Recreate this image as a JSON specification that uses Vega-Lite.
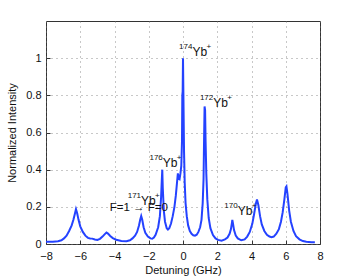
{
  "$schema": "https://vega.github.io/schema/vega-lite/v6.json",
  "autosize": {"type": "none"},
  "width": 274,
  "height": 223,
  "padding": {"left": 46, "top": 21, "right": 34, "bottom": 33},
  "background": "white",
  "config": {
    "font": "Liberation Sans, DejaVu Sans",
    "view": {"stroke": "#333", "strokeWidth": 1},
    "axis": {
      "domain": false,
      "grid": true,
      "gridDash": [1, 4],
      "gridColor": "#777",
      "gridOpacity": 0.8,
      "tickColor": "#333",
      "tickSize": -4,
      "labelFontSize": 11,
      "labelColor": "#111",
      "titleFontSize": 11,
      "titleFontWeight": "normal",
      "titleColor": "#111"
    }
  },
  "datasets": {
    "spectrum": [
      {"d": -8.0, "v": 0.012}, {"d": -7.6, "v": 0.012}, {"d": -7.3, "v": 0.015}, {"d": -7.1, "v": 0.02},
      {"d": -6.95, "v": 0.03}, {"d": -6.8, "v": 0.045}, {"d": -6.65, "v": 0.07}, {"d": -6.5, "v": 0.1},
      {"d": -6.4, "v": 0.13}, {"d": -6.32, "v": 0.16}, {"d": -6.25, "v": 0.187}, {"d": -6.18, "v": 0.165},
      {"d": -6.1, "v": 0.13}, {"d": -6.0, "v": 0.095}, {"d": -5.85, "v": 0.065}, {"d": -5.7, "v": 0.045},
      {"d": -5.55, "v": 0.033}, {"d": -5.42, "v": 0.03}, {"d": -5.3, "v": 0.029}, {"d": -5.15, "v": 0.024},
      {"d": -5.0, "v": 0.022}, {"d": -4.85, "v": 0.028}, {"d": -4.7, "v": 0.04}, {"d": -4.58, "v": 0.052},
      {"d": -4.47, "v": 0.062}, {"d": -4.38, "v": 0.056}, {"d": -4.25, "v": 0.043}, {"d": -4.1, "v": 0.032},
      {"d": -3.9, "v": 0.023}, {"d": -3.6, "v": 0.016}, {"d": -3.3, "v": 0.015}, {"d": -3.1, "v": 0.02},
      {"d": -2.95, "v": 0.03}, {"d": -2.8, "v": 0.045}, {"d": -2.68, "v": 0.065}, {"d": -2.57, "v": 0.1},
      {"d": -2.5, "v": 0.13}, {"d": -2.44, "v": 0.15}, {"d": -2.38, "v": 0.13}, {"d": -2.3, "v": 0.09},
      {"d": -2.2, "v": 0.06}, {"d": -2.05, "v": 0.04}, {"d": -1.9, "v": 0.03}, {"d": -1.8, "v": 0.028},
      {"d": -1.7, "v": 0.035}, {"d": -1.6, "v": 0.05}, {"d": -1.45, "v": 0.09}, {"d": -1.35, "v": 0.15},
      {"d": -1.28, "v": 0.25}, {"d": -1.24, "v": 0.34}, {"d": -1.21, "v": 0.4}, {"d": -1.18, "v": 0.3},
      {"d": -1.12, "v": 0.18}, {"d": -1.05, "v": 0.12}, {"d": -0.95, "v": 0.085}, {"d": -0.88, "v": 0.078},
      {"d": -0.8, "v": 0.085}, {"d": -0.7, "v": 0.11}, {"d": -0.6, "v": 0.15}, {"d": -0.5, "v": 0.2},
      {"d": -0.42, "v": 0.26}, {"d": -0.35, "v": 0.33}, {"d": -0.3, "v": 0.38}, {"d": -0.25, "v": 0.355},
      {"d": -0.2, "v": 0.35}, {"d": -0.15, "v": 0.38}, {"d": -0.1, "v": 0.42}, {"d": -0.06, "v": 0.55},
      {"d": -0.04, "v": 0.8}, {"d": -0.02, "v": 0.82}, {"d": 0.0, "v": 1.0}, {"d": 0.03, "v": 0.75},
      {"d": 0.06, "v": 0.5}, {"d": 0.1, "v": 0.33}, {"d": 0.15, "v": 0.22}, {"d": 0.22, "v": 0.15},
      {"d": 0.3, "v": 0.1}, {"d": 0.4, "v": 0.07}, {"d": 0.5, "v": 0.055}, {"d": 0.6, "v": 0.047},
      {"d": 0.7, "v": 0.045}, {"d": 0.8, "v": 0.05}, {"d": 0.9, "v": 0.065}, {"d": 1.0, "v": 0.09},
      {"d": 1.08, "v": 0.13}, {"d": 1.15, "v": 0.22}, {"d": 1.2, "v": 0.35}, {"d": 1.23, "v": 0.56},
      {"d": 1.26, "v": 0.74}, {"d": 1.29, "v": 0.72}, {"d": 1.32, "v": 0.55}, {"d": 1.36, "v": 0.38},
      {"d": 1.42, "v": 0.24}, {"d": 1.5, "v": 0.14}, {"d": 1.6, "v": 0.085}, {"d": 1.75, "v": 0.048},
      {"d": 1.9, "v": 0.03}, {"d": 2.05, "v": 0.022}, {"d": 2.25, "v": 0.018}, {"d": 2.45, "v": 0.025},
      {"d": 2.6, "v": 0.035}, {"d": 2.72, "v": 0.055}, {"d": 2.8, "v": 0.08}, {"d": 2.85, "v": 0.11},
      {"d": 2.88, "v": 0.13}, {"d": 2.92, "v": 0.11}, {"d": 2.98, "v": 0.075}, {"d": 3.08, "v": 0.045},
      {"d": 3.2, "v": 0.03}, {"d": 3.4, "v": 0.02}, {"d": 3.6, "v": 0.025}, {"d": 3.75, "v": 0.04},
      {"d": 3.9, "v": 0.065}, {"d": 4.05, "v": 0.11}, {"d": 4.15, "v": 0.16}, {"d": 4.25, "v": 0.215},
      {"d": 4.32, "v": 0.24}, {"d": 4.4, "v": 0.21}, {"d": 4.5, "v": 0.15}, {"d": 4.6, "v": 0.105},
      {"d": 4.75, "v": 0.07}, {"d": 4.9, "v": 0.05}, {"d": 5.05, "v": 0.04}, {"d": 5.17, "v": 0.037},
      {"d": 5.3, "v": 0.04}, {"d": 5.45, "v": 0.055}, {"d": 5.6, "v": 0.08}, {"d": 5.72, "v": 0.12},
      {"d": 5.82, "v": 0.17}, {"d": 5.92, "v": 0.24}, {"d": 6.0, "v": 0.305}, {"d": 6.04, "v": 0.31},
      {"d": 6.1, "v": 0.27}, {"d": 6.2, "v": 0.18}, {"d": 6.3, "v": 0.12}, {"d": 6.45, "v": 0.07},
      {"d": 6.6, "v": 0.042}, {"d": 6.8, "v": 0.025}, {"d": 7.0, "v": 0.016}, {"d": 7.2, "v": 0.012},
      {"d": 7.5, "v": 0.01}, {"d": 7.7, "v": 0.01}
    ],
    "isotopes": [
      {"d": 0.55, "v": 1.014, "mass": "174"},
      {"d": 1.767, "v": 0.737, "mass": "172"},
      {"d": -1.18, "v": 0.415, "mass": "176"},
      {"d": -2.45, "v": 0.21, "mass": "171"},
      {"d": 3.19, "v": 0.157, "mass": "170"}
    ],
    "notes": [
      {"d": -2.58, "v": 0.175, "t": "F=1 → F=0"}
    ]
  },
  "encoding": {
    "x": {
      "field": "d", "type": "quantitative",
      "scale": {"domain": [-8, 8], "nice": false, "zero": false},
      "axis": {"title": "Detuning (GHz)", "values": [-8, -6, -4, -2, 0, 2, 4, 6, 8], "labelOverlap": false, "labelFlush": false, "labelPadding": 10, "titlePadding": 3}
    },
    "y": {
      "field": "v", "type": "quantitative",
      "scale": {"domain": [0, 1.2], "nice": false},
      "axis": {"title": "Normalized Intensity", "values": [0, 0.2, 0.4, 0.6, 0.8, 1], "format": "~g", "labelOverlap": false, "labelPadding": 9, "titlePadding": 8}
    }
  },
  "layer": [
    {
      "data": {"name": "spectrum"},
      "mark": {"type": "line", "color": "#2442ff", "strokeWidth": 2, "clip": true}
    },
    {
      "data": {"name": "isotopes"},
      "mark": {"type": "text", "fontSize": 8, "color": "#111", "align": "right", "baseline": "alphabetic", "dy": -7},
      "encoding": {"text": {"field": "mass"}}
    },
    {
      "data": {"name": "isotopes"},
      "mark": {"type": "text", "fontSize": 12, "color": "#111", "align": "left", "baseline": "alphabetic"},
      "encoding": {"text": {"value": "Yb"}}
    },
    {
      "data": {"name": "isotopes"},
      "mark": {"type": "text", "fontSize": 8, "color": "#111", "align": "left", "baseline": "alphabetic", "dx": 14, "dy": -7},
      "encoding": {"text": {"value": "+"}}
    },
    {
      "data": {"name": "notes"},
      "mark": {"type": "text", "fontSize": 11.5, "color": "#111", "align": "center", "baseline": "alphabetic"},
      "encoding": {"text": {"field": "t"}}
    }
  ]
}
